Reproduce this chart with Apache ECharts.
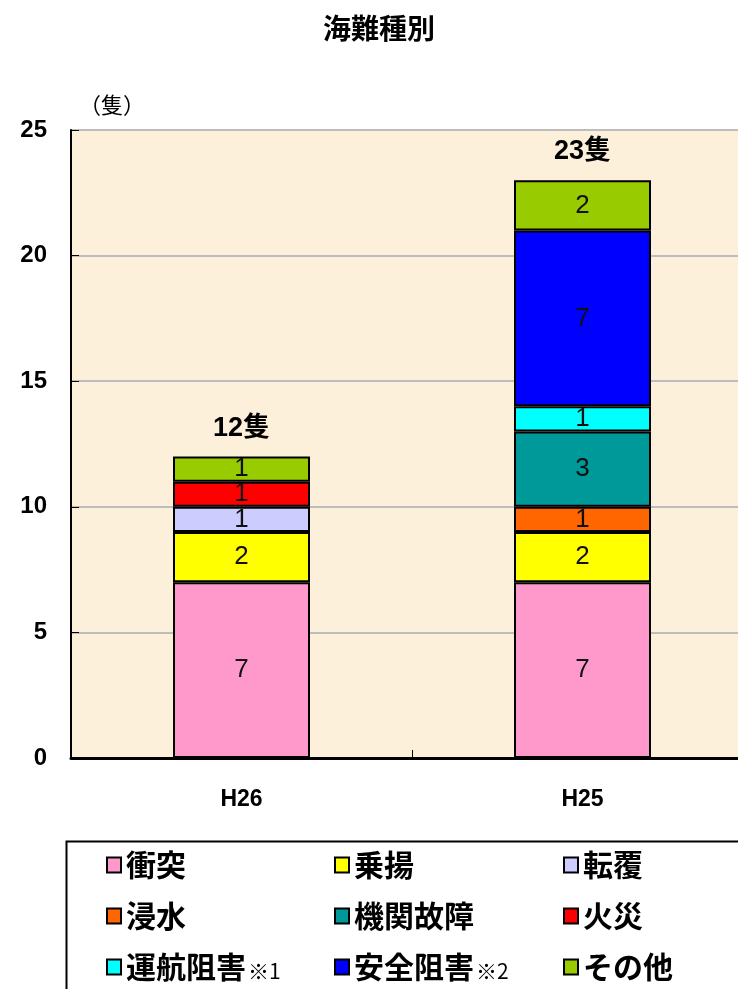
<!DOCTYPE html>
<html>
<head>
<meta charset="utf-8">
<script src="https://cdn.jsdelivr.net/npm/echarts@6/dist/echarts.min.js"></script>
<style>
  html, body { margin: 0; padding: 0; background: #fff; }
  #chart { width: 738px; height: 989px; }
</style>
</head>
<body>
<div id="chart"></div>
<script>
// 年度（カテゴリ）
const categories = ['H26', 'H25'];

// 海難種別ごとの隻数（null は該当なし）
const shototsu   = [7, 7];        // 衝突
const noriage    = [2, 2];        // 乗揚
const tenpuku    = [1, null];     // 転覆
const shinsui    = [null, 1];     // 浸水
const kikan      = [null, 3];     // 機関故障
const kasai      = [1, null];     // 火災
const unkou      = [null, 1];     // 運航阻害
const anzen      = [null, 7];     // 安全阻害
const sonota     = [1, 2];        // その他

const yTicks = [0, 5, 10, 15, 20, 25];

const kinds = [
  { name: '衝突',     data: shototsu, color: '#FF99CC' },
  { name: '乗揚',     data: noriage,  color: '#FFFF00' },
  { name: '転覆',     data: tenpuku,  color: '#CCCCFF' },
  { name: '浸水',     data: shinsui,  color: '#FF6600' },
  { name: '機関故障', data: kikan,    color: '#009999' },
  { name: '火災',     data: kasai,    color: '#FF0000' },
  { name: '運航阻害', data: unkou,    color: '#00FFFF' },
  { name: '安全阻害', data: anzen,    color: '#0000FF' },
  { name: 'その他',   data: sonota,   color: '#99CC00' }
];

const totals = categories.map((c, i) =>
  kinds.reduce((s, k) => s + (k.data[i] || 0), 0));

const jpFont = "'Noto Sans CJK JP', sans-serif";
const numFont = "'Liberation Sans Narrow', 'Arial Narrow', 'Liberation Sans', Arial, sans-serif";
const boldNum = "'Liberation Sans', Arial, 'Noto Sans CJK JP', sans-serif";

const chart = echarts.init(document.getElementById('chart'), null, { renderer: 'canvas' });

const barSeries = kinds.map(k => ({
  name: k.name,
  type: 'bar',
  stack: 'total',
  barWidth: 137,
  data: k.data,
  itemStyle: { color: k.color, borderColor: '#000', borderWidth: 2 },
  label: {
    show: true,
    position: 'inside',
    color: '#111',
    fontFamily: numFont,
    fontSize: 26,
    formatter: p => (p.value == null ? '' : String(p.value))
  },
  emphasis: { disabled: true }
}));

// 合計ラベル（棒の上）
const totalSeries = {
  name: '合計',
  type: 'scatter',
  data: totals,
  symbolSize: 0,
  silent: true,
  itemStyle: { opacity: 1, color: 'rgba(0,0,0,0)' },
  label: {
    show: true,
    position: 'top',
    distance: 15,
    color: '#000',
    opacity: 1,
    fontFamily: boldNum,
    fontWeight: 'bold',
    fontSize: 27,
    formatter: p => p.value + '隻'
  },
  emphasis: { disabled: true },
  z: 10
};

const legendText = {
  color: '#000',
  fontFamily: jpFont,
  fontWeight: 'bold',
  fontSize: 30,
  lineHeight: 30,
  rich: {
    note: {
      fontFamily: jpFont, fontWeight: 'normal', fontSize: 21, lineHeight: 30,
      verticalAlign: 'bottom', color: '#000', padding: [0, 0, 0, 2]
    }
  }
};

function legendColumn(names, left) {
  return {
    orient: 'vertical',
    left: left,
    top: 850,
    height: 200,
    padding: 0,
    itemWidth: 14,
    itemHeight: 15,
    itemGap: 21,
    icon: 'rect',
    selectedMode: false,
    itemStyle: { borderColor: '#000', borderWidth: 2 },
    textStyle: legendText,
    data: names,
    formatter: name => {
      if (name === '運航阻害') return name + '{note|※1}';
      if (name === '安全阻害') return name + '{note|※2}';
      return name;
    }
  };
}

chart.setOption({
  animation: false,
  backgroundColor: '#ffffff',
  title: {
    text: '海難種別',
    left: 318,
    top: 9,
    textStyle: { fontFamily: jpFont, fontWeight: 'bold', fontSize: 28, color: '#000' }
  },
  legend: [
    legendColumn(['衝突', '浸水', '運航阻害'], 106),
    legendColumn(['乗揚', '機関故障', '安全阻害'], 334),
    legendColumn(['転覆', '火災', 'その他'], 563)
  ],
  grid: {
    left: 71,
    top: 130,
    width: 682,
    height: 628,
    outerBoundsMode: 'none',
    containLabel: false,
    show: true,
    backgroundColor: '#FCF0DA',
    borderColor: '#A0A0A0',
    borderWidth: 1
  },
  xAxis: {
    type: 'category',
    data: categories,
    axisLine: { lineStyle: { color: '#000', width: 3 } },
    axisTick: { show: true, inside: true, length: 8, lineStyle: { color: '#000', width: 1 } },
    axisLabel: {
      margin: 30,
      color: '#000',
      fontFamily: boldNum,
      fontWeight: 'bold',
      fontSize: 23
    }
  },
  yAxis: {
    type: 'value',
    min: yTicks[0],
    max: yTicks[yTicks.length - 1],
    interval: 5,
    name: '（隻）',
    nameLocation: 'end',
    nameGap: 14,
    nameTextStyle: { align: 'left', padding: [0, 0, 0, 8], fontFamily: jpFont, fontSize: 22, color: '#000' },
    axisLine: { show: true, lineStyle: { color: '#000', width: 2 } },
    axisTick: { show: true, inside: true, length: 8, lineStyle: { color: '#000', width: 1 } },
    splitLine: { show: true, lineStyle: { color: '#BDBDBD', width: 2 } },
    axisLabel: {
      margin: 24,
      color: '#000',
      fontFamily: boldNum,
      fontWeight: 'bold',
      fontSize: 24
    }
  },
  graphic: [
    {
      type: 'rect',
      left: 64,
      top: 839,
      shape: { width: 700, height: 170 },
      style: { fill: 'none', stroke: '#000', lineWidth: 2 },
      silent: true,
      z: 0
    }
  ],
  series: barSeries.concat([totalSeries])
});
</script>
</body>
</html>
